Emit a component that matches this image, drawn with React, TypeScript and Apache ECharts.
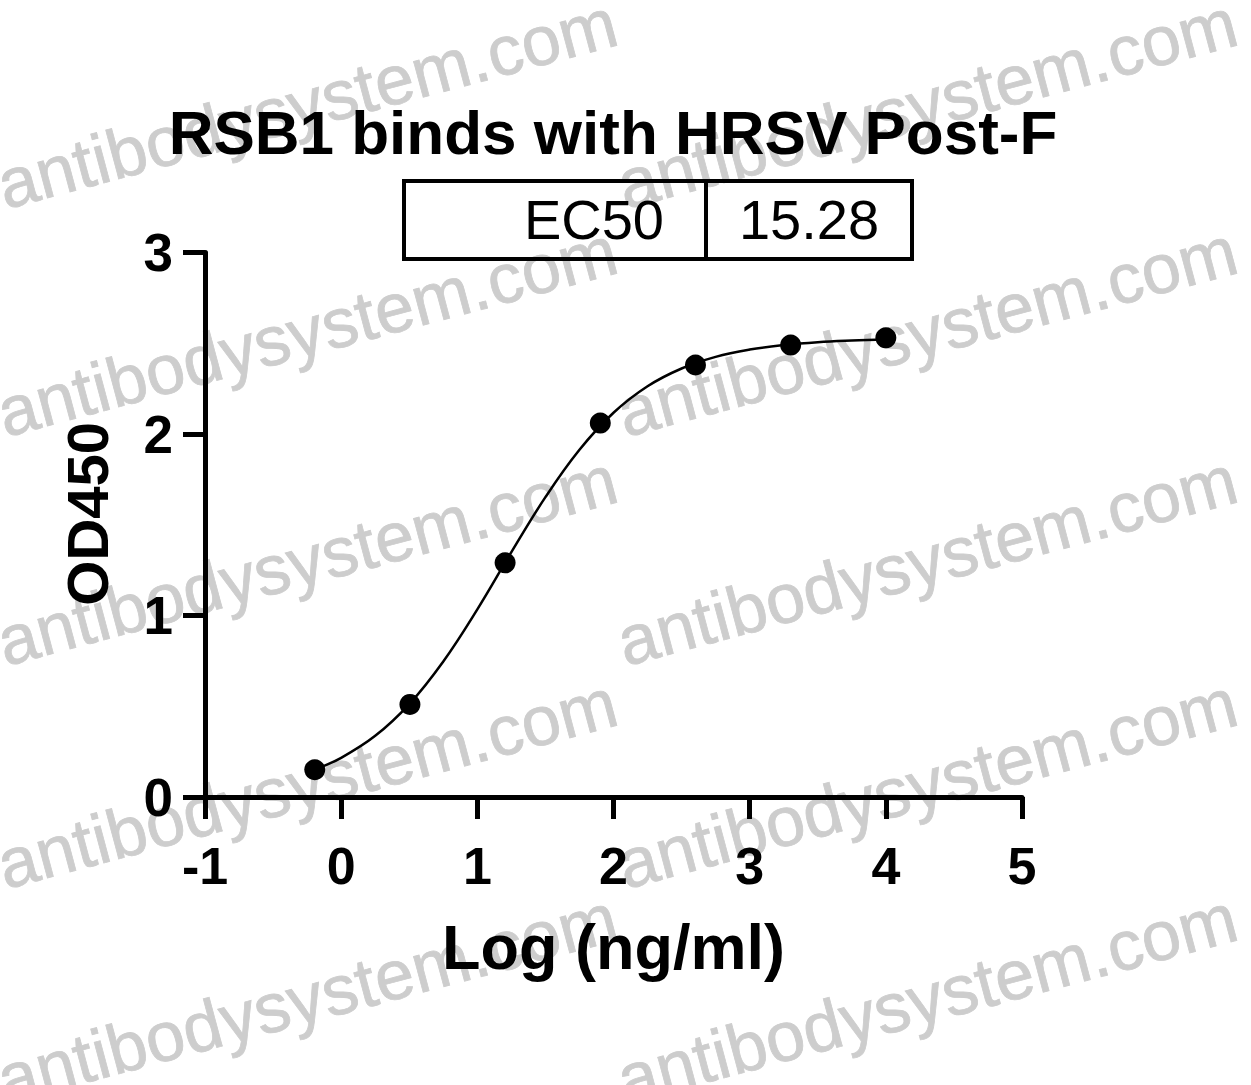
import React, { useEffect, useRef } from "react";
import * as echarts from "echarts";

const titleText = "RSB1 binds with HRSV Post-F";
const xAxisName = "Log (ng/ml)";
const yAxisName = "OD450";
const ec50Label = "EC50";
const ec50Value = "15.28";

// measured points (log concentration, OD450)
const pointX = [-0.194, 0.505, 1.204, 1.903, 2.602, 3.301, 4.0];
const pointY = [0.15, 0.51, 1.29, 2.06, 2.38, 2.49, 2.53];

// fitted curve
const curveX = [-0.194, 0.0, 0.25, 0.5, 0.75, 1.0, 1.25, 1.5, 1.75, 2.0, 2.25, 2.5, 2.75, 3.0, 3.25, 3.5, 3.75, 4.0];
const curveY = [0.151, 0.216, 0.337, 0.512, 0.747, 1.034, 1.349, 1.652, 1.913, 2.117, 2.263, 2.361, 2.425, 2.465, 2.49, 2.506, 2.515, 2.521];

const xTicks = [-1, 0, 1, 2, 3, 4, 5];
const yTicks = [0, 1, 2, 3];

const watermarkText = "antibodysystem.com";
const watermarkCols = [8, 628];
const watermarkRows = [220, 448, 677, 900, 1115];

const FONT = "'Liberation Sans', Arial, Helvetica, sans-serif";

export default function App() {
  const ref = useRef<HTMLDivElement>(null);
  useEffect(() => {
    if (!ref.current) return;
    const chart = echarts.init(ref.current, null, { renderer: "svg" });

    const wm: any[] = [];
    watermarkRows.forEach((ry) => {
      watermarkCols.forEach((cx) => {
        wm.push({
          type: "text",
          x: cx,
          y: ry,
          rotation: (15 * Math.PI) / 180,
          z: -10,
          silent: true,
          style: {
            text: watermarkText,
            fill: "#cdcdcd",
            font: `70px ${FONT}`,
            textAlign: "left",
            textVerticalAlign: "bottom",
            stroke: "#cdcdcd",
            lineWidth: 0.8,
          },
        });
      });
    });

    const table: any[] = [
      {
        type: "rect",
        shape: { x: 404, y: 181, width: 508, height: 78 },
        style: { fill: "none", stroke: "#000", lineWidth: 4 },
        z: 5,
      },
      {
        type: "line",
        shape: { x1: 706, y1: 181, x2: 706, y2: 259 },
        style: { stroke: "#000", lineWidth: 4 },
        z: 5,
      },
      {
        type: "text",
        x: 664,
        y: 219,
        z: 5,
        style: {
          text: ec50Label,
          fill: "#000",
          font: `56px ${FONT}`,
          textAlign: "right",
          textVerticalAlign: "middle",
        },
      },
      {
        type: "text",
        x: 809,
        y: 219,
        z: 5,
        style: {
          text: ec50Value,
          fill: "#000",
          font: `56px ${FONT}`,
          textAlign: "center",
          textVerticalAlign: "middle",
        },
      },
    ];

    chart.setOption({
      animation: false,
      backgroundColor: "#ffffff",
      title: {
        text: titleText,
        left: 613,
        top: 101,
        textAlign: "center",
        padding: 0,
        textStyle: { fontFamily: FONT, fontWeight: "bold", fontSize: 62, color: "#000" },
      },
      graphic: [...wm, ...table],
      grid: { left: 205, right: 229, top: 252.5, bottom: 288, containLabel: false },
      xAxis: {
        type: "value",
        min: xTicks[0],
        max: xTicks[xTicks.length - 1],
        interval: 1,
        name: xAxisName,
        nameLocation: "middle",
        nameGap: 118,
        nameTextStyle: { fontFamily: FONT, fontWeight: "bold", fontSize: 63, color: "#000" },
        axisLine: { show: true, onZero: false, lineStyle: { color: "#000", width: 5 } },
        axisTick: { show: true, inside: false, length: 22, lineStyle: { color: "#000", width: 5 } },
        axisLabel: {
          margin: 43,
          fontFamily: FONT,
          fontWeight: "bold",
          fontSize: 52,
          color: "#000",
          formatter: (v: number) => String(v),
        },
        splitLine: { show: false },
      },
      yAxis: {
        type: "value",
        min: yTicks[0],
        max: yTicks[yTicks.length - 1],
        interval: 1,
        name: yAxisName,
        nameLocation: "middle",
        nameRotate: 90,
        nameGap: 89,
        nameTextStyle: {
          fontFamily: FONT,
          fontWeight: "bold",
          fontSize: 58,
          color: "#000",
          padding: [0, 0, 0, 22],
        },
        axisLine: { show: true, onZero: false, lineStyle: { color: "#000", width: 5 } },
        axisTick: { show: true, inside: false, length: 22, lineStyle: { color: "#000", width: 5 } },
        axisLabel: {
          margin: 32,
          fontFamily: FONT,
          fontWeight: "bold",
          fontSize: 53,
          color: "#000",
        },
        splitLine: { show: false },
      },
      series: [
        {
          type: "line",
          data: curveX.map((x, i) => [x, curveY[i]]),
          smooth: 0.4,
          showSymbol: false,
          symbol: "none",
          lineStyle: { color: "#000", width: 2.5 },
          z: 3,
        },
        {
          type: "scatter",
          data: pointX.map((x, i) => [x, pointY[i]]),
          symbol: "circle",
          symbolSize: 21,
          itemStyle: { color: "#000", opacity: 1 },
          z: 4,
        },
      ],
    });
    return () => chart.dispose();
  }, []);
  return (
    <div
      ref={ref}
      style={{ position: "fixed", left: 0, top: 0, width: 1251, height: 1085, background: "#fff" }}
    />
  );
}
